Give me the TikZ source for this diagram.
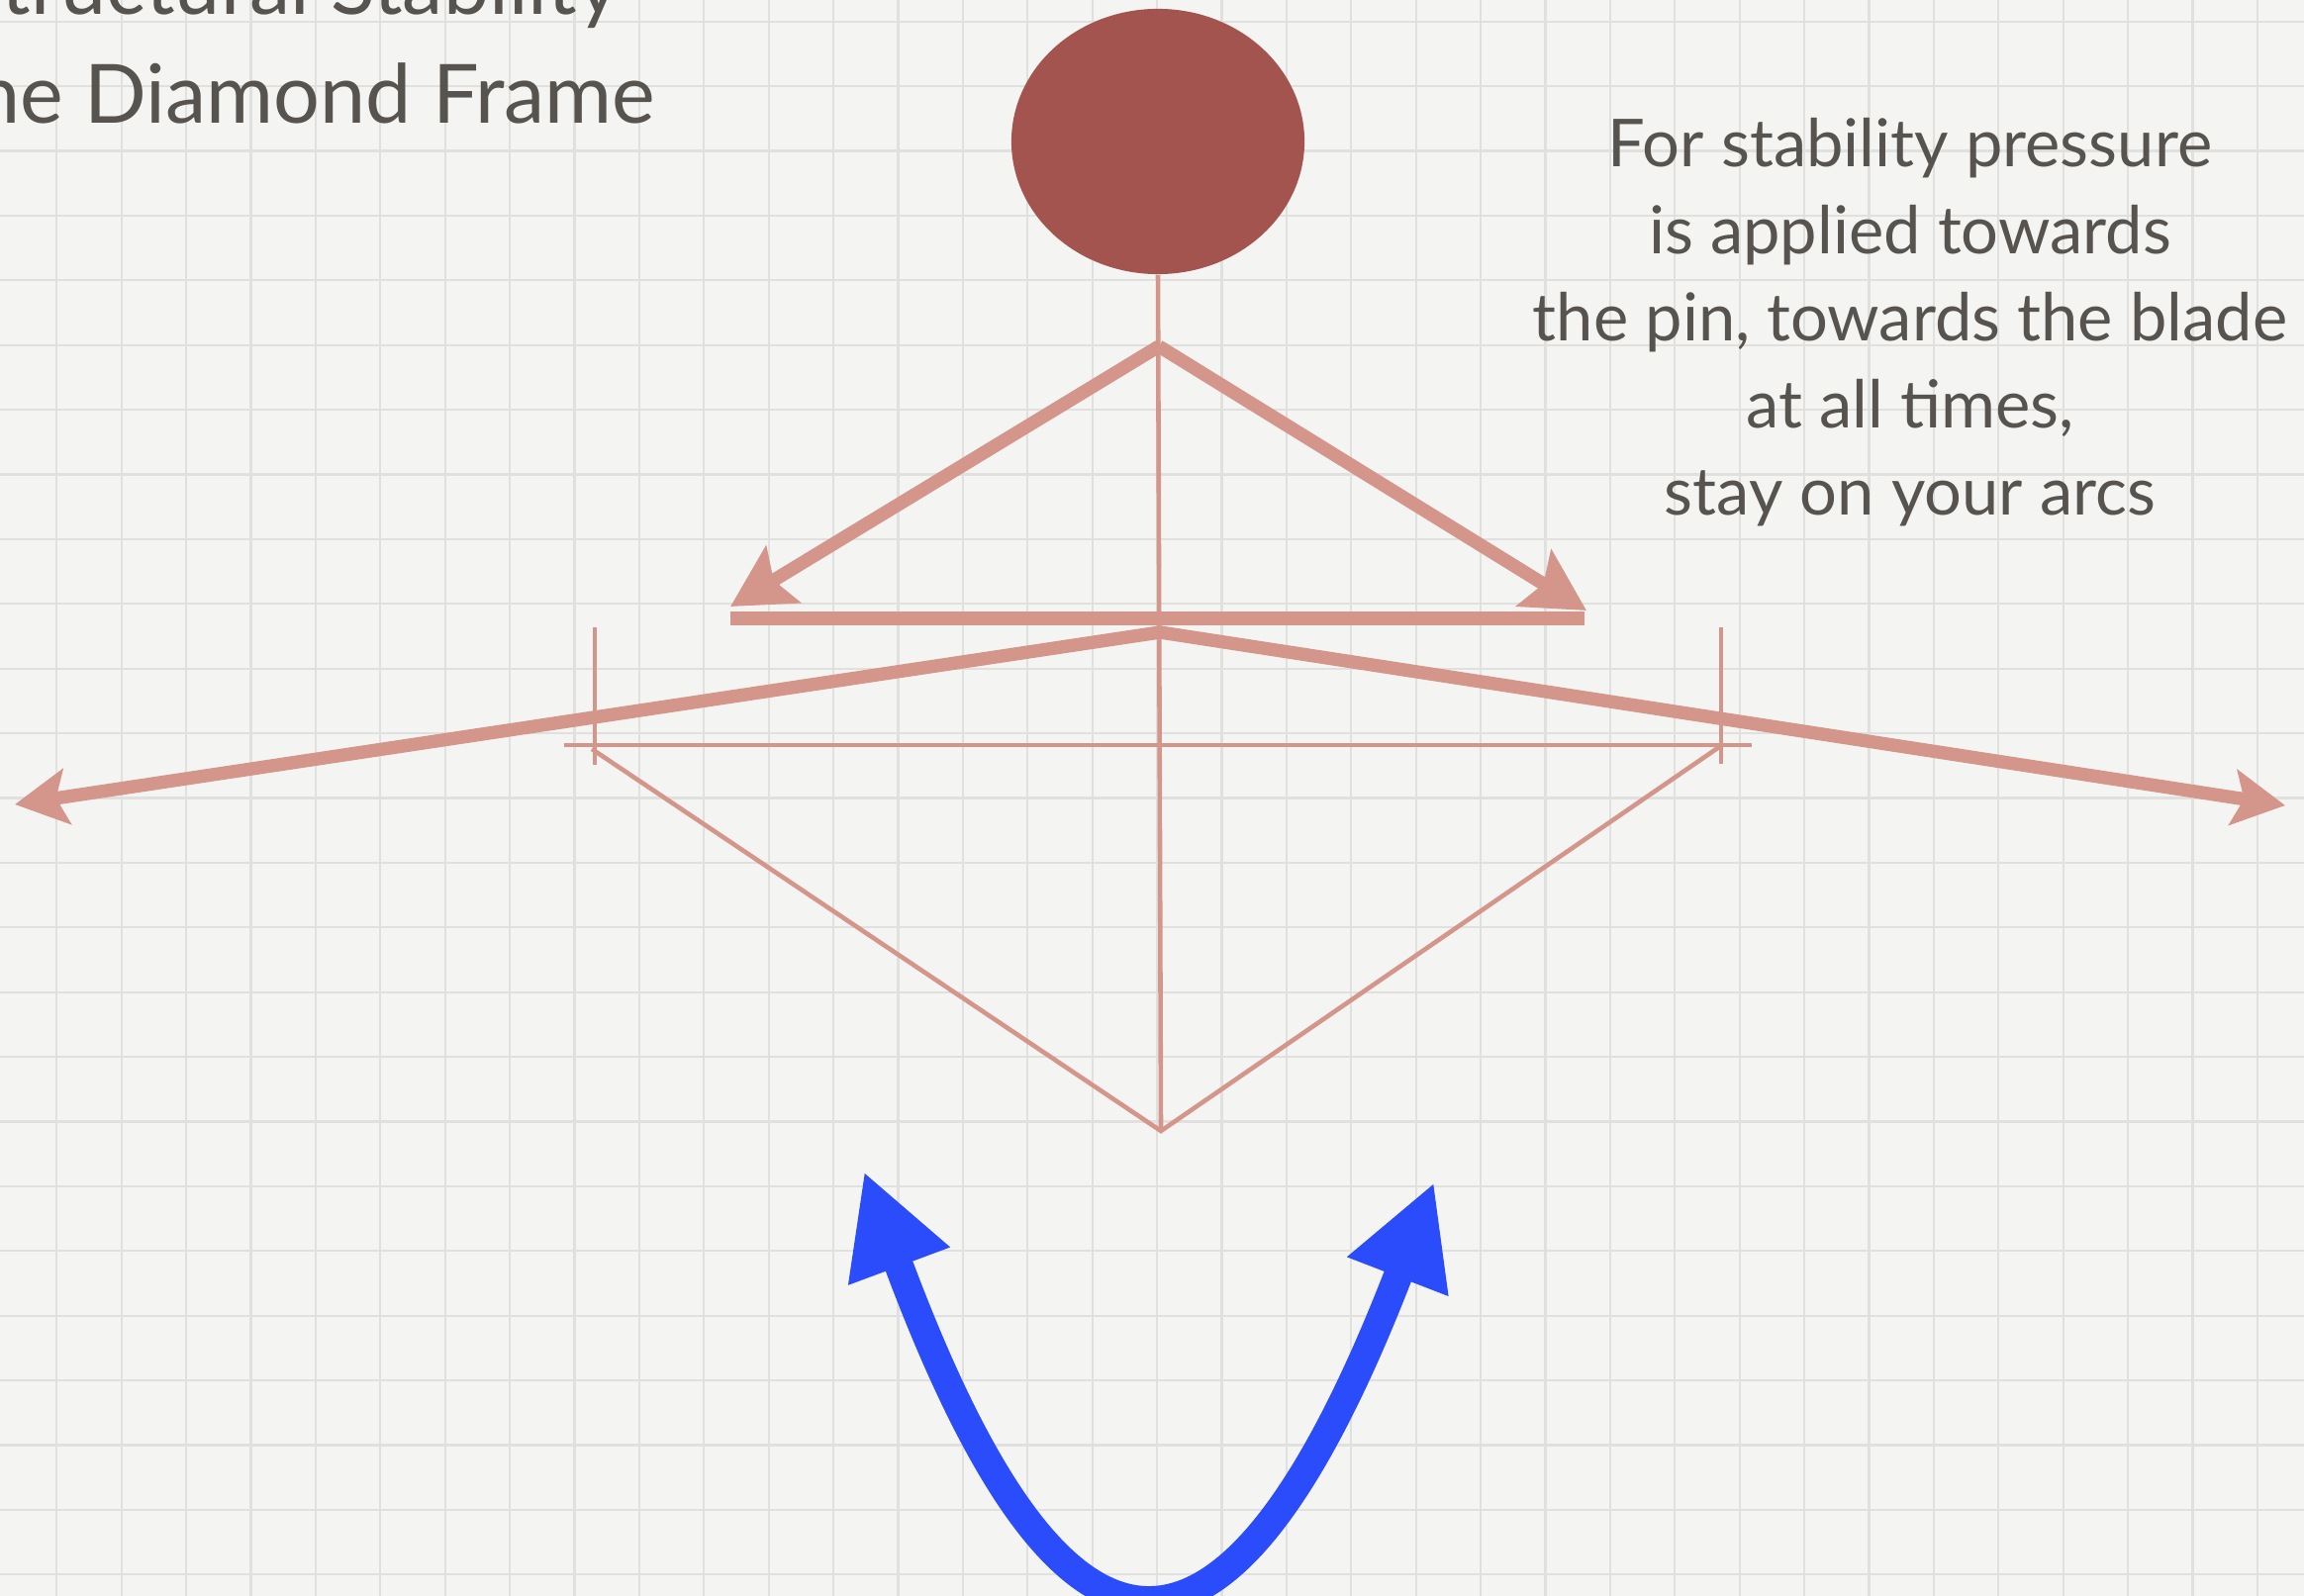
\documentclass[tikz,border=0pt]{standalone}
\usepackage{fontspec}
\setmainfont{Lato}
\usetikzlibrary{arrows.meta,shapes.geometric}
\definecolor{paper}{RGB}{244,244,242}
\definecolor{gridgray}{RGB}{224,224,222}
\definecolor{salmon}{RGB}{212,150,139}
\definecolor{headred}{RGB}{163,84,78}
\definecolor{arcblue}{RGB}{43,76,250}
\definecolor{ink}{RGB}{87,83,79}
\tikzset{
  thickbar/.style={draw=salmon, line width=3.8pt},
  thinbar/.style={draw=salmon, line width=1.3pt},
  push/.style={thickbar, -{Stealth[length=6.2mm, width=6.6mm, inset=1.1mm]}},
  spread/.style={thickbar, -{Stealth[length=5.3mm, width=5.6mm, inset=1.1mm]}},
  note/.style={text=ink, font=\fontsize{19}{22}\selectfont, inner sep=0pt, anchor=base},
  title/.style={text=ink, font=\fontsize{23.5}{28}\selectfont, inner sep=0pt, anchor=base east},
}
\begin{document}
\begin{tikzpicture}[x=0.01cm, y=-0.01cm]
\useasboundingbox (0,0) rectangle (2328,1613);
\clip (0,0) rectangle (2328,1613);
\fill[paper] (0,0) rectangle (2328,1613);
\foreach \k in {0,...,35} \draw[gridgray, line width=0.6pt] ({57.3+65.4*\k},0) -- ({57.3+65.4*\k},1613);
\foreach \k in {0,...,24} \draw[gridgray, line width=0.6pt] (0,{21.7+65.4*\k}) -- (2328,{21.7+65.4*\k});

\node[title] (title1) at (626,15) {Structural Stability};
\node[title] (title2) at (663,125) {the Diamond Frame};
\foreach \t [count=\i from 0] in {For stability pressure, is applied towards, {the pin, towards the blade}, {at all times,}, stay on your arcs}
  \node[note] (note\i) at (1930,{169+88*\i}) {\t};

\node[ellipse, fill=headred, minimum width=2.96cm, minimum height=2.68cm, inner sep=0pt] (head) at (1170,143) {};
\coordinate (apex) at (1171,350);
\coordinate (pinL) at (738,613);
\coordinate (pinR) at (1603,617);
\coordinate (barL) at (738,625);
\coordinate (barR) at (1601,625);
\coordinate (hub) at (1172,639);
\coordinate (farL) at (15,813);
\coordinate (farR) at (2309,814);
\coordinate (lineL) at (570,753);
\coordinate (lineR) at (1770,753);
\coordinate (tickLt) at (601,634);
\coordinate (tickLb) at (601,773);
\coordinate (tickRt) at (1739,634);
\coordinate (tickRb) at (1739,772);
\coordinate (cornerL) at (598,757);
\coordinate (cornerR) at (1737,755);
\coordinate (bottom) at (1173,1143);
\coordinate (arcL) at (873,1184);
\coordinate (arcR) at (1449,1195);

\draw[thinbar] (head.south) -- (bottom);
\draw[thinbar] (lineL) -- (lineR);
\draw[thinbar] (tickLt) -- (tickLb);
\draw[thinbar] (tickRt) -- (tickRb);
\draw[thinbar] (cornerL) -- (bottom) -- (cornerR);
\draw[thickbar] (barL) -- (barR);
\draw[push] (apex) -- (pinL);
\draw[push] (apex) -- (pinR);
\draw[spread] (hub) -- (farL);
\draw[spread] (hub) -- (farR);
\draw[arcblue, line width=8.3pt, {Triangle[length=10.2mm, width=10.2mm]}-{Triangle[length=10.2mm, width=10.2mm]}] (arcL) .. controls (1074,1725) and (1240,1736) .. (arcR);
\end{tikzpicture}
\end{document}
